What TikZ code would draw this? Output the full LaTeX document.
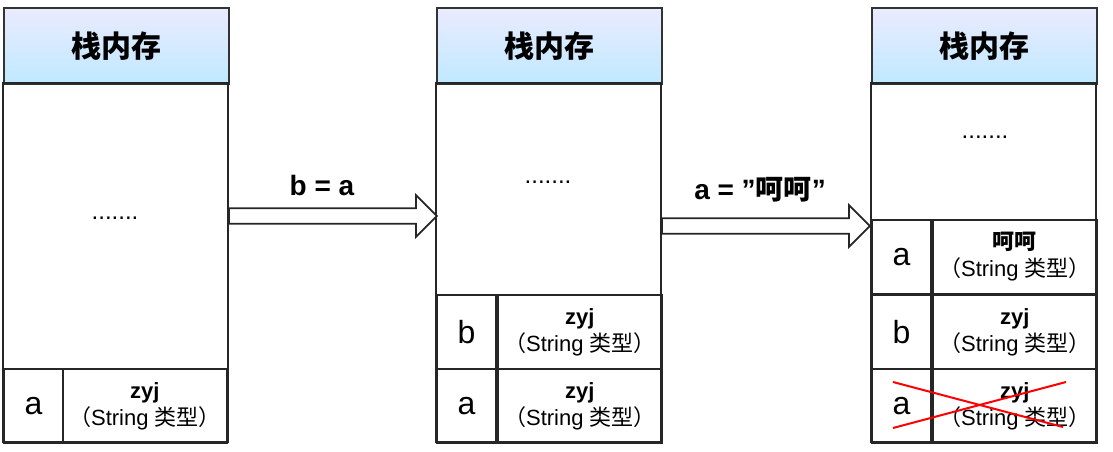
\documentclass[tikz,border=0pt]{standalone}
\usepackage{fontspec}
\setmainfont{Liberation Sans}
\newfontfamily\cjk{Noto Sans CJK SC}
\usetikzlibrary{calc,shapes.arrows}

\tikzset{
  head/.style={draw=black!80,line width=1.8pt,top color=blue!8,bottom color=blue!35!cyan!25,anchor=north west,minimum width=225,minimum height=76,inner sep=0,font=\cjk\bfseries\fontsize{30}{30}\selectfont},
  cell/.style={draw=black!85,line width=1.8pt,anchor=north west,inner sep=0,align=center},
  var/.style={cell,minimum width=59,minimum height=74,font=\fontsize{32}{32}\selectfont},
  val/.style={cell,minimum width=164,minimum height=74,font=\fontsize{22}{27}\selectfont},
  move/.style={single arrow,draw=black!85,line width=1.8pt,fill=white,minimum height=208,minimum width=42,single arrow head extend=12,single arrow tip angle=90,inner sep=6,anchor=west,shape border rotate=0},
  lbl/.style={font=\bfseries\fontsize{28}{28}\selectfont},
  dots/.style={font=\fontsize{24}{24}\selectfont}
}
\newcommand{\strtype}{\textbf{zyj}\\{\cjk （}String {\cjk 类型）}}

\begin{document}
\begin{tikzpicture}[x=1pt,y=-1pt]
\useasboundingbox (0,0) rectangle (1113,452);

% stack 1
\node[head] (h1) at (3,7) {栈内存};
\draw[line width=1.8pt,draw=black!85] (3,83) rectangle (228,442);
\node[var] (a1) at (3,368) {a};
\node[val] (v1) at (62,368) {\strtype};
\node[dots] at (115,218) {.......};

% stack 2
\node[head] (h2) at (436,7) {栈内存};
\draw[line width=1.8pt,draw=black!85] (436,83) rectangle (661,442);
\node[var] (b2) at (436,294) {b};
\node[val] (w2) at (497,294) {\strtype};
\node[var] (a2) at (436,368) {a};
\node[val] (v2) at (497,368) {\strtype};
\node[dots] at (548,182) {.......};

% stack 3
\node[head] (h3) at (871,7) {栈内存};
\draw[line width=1.8pt,draw=black!85] (871,83) rectangle (1096,442);
\node[var] (a3) at (871,219) {a};
\node[val] (u3) at (932,219) {\textbf{\cjk 呵呵}\\{\cjk （}String {\cjk 类型）}};
\node[var] (b3) at (871,294) {b};
\node[val] (w3) at (932,294) {\strtype};
\node[var] (c3) at (871,368) {a};
\node[val] (v3) at (932,368) {\strtype};
\node[dots] at (985,137) {.......};

% arrows
\node[move] (m1) at (228,216) {};
\node[lbl] at (322,185) {b = a};
\node[move] (m2) at (661,226) {};
\node[lbl] at (760,190) {a = "{\cjk 呵呵}"};

% removed
\draw[red,line width=2pt] (893,382) -- (1063,427);
\draw[red,line width=2pt] (893,428) -- (1066,382);
\end{tikzpicture}
\end{document}
